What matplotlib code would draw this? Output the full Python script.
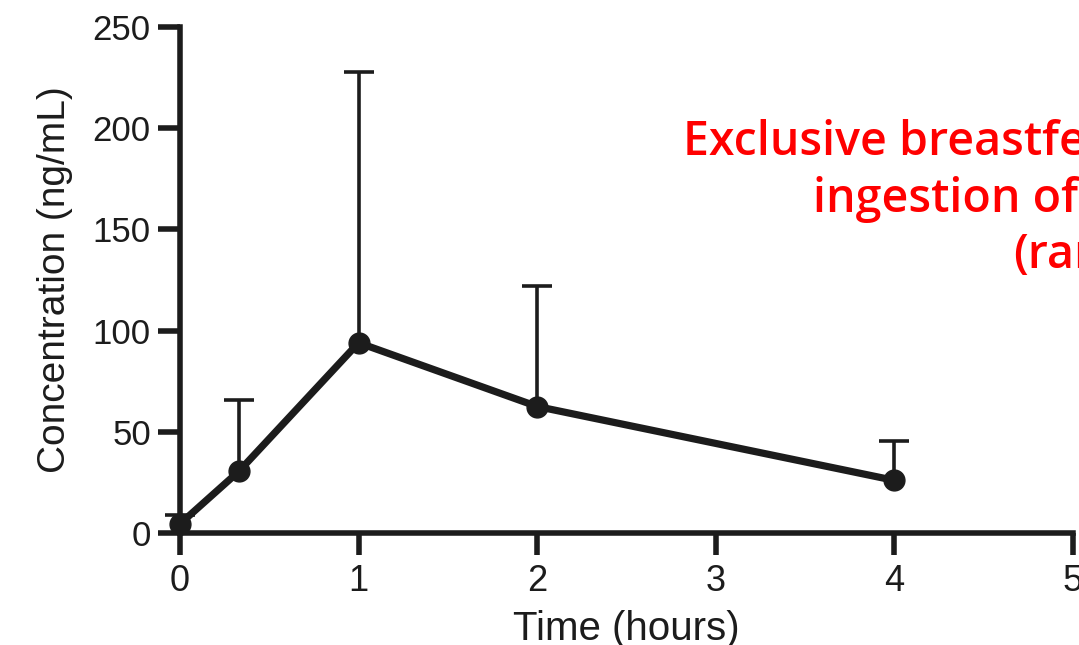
import matplotlib
matplotlib.use("Agg")
import matplotlib.pyplot as plt
import numpy as np

time_h = [0, 0.33, 1, 2, 4]
conc_mean = [4.5, 30.5, 94, 62.5, 26]
conc_upper = [9, 65.5, 228, 122, 45.5]
x_ticks = [0, 1, 2, 3, 4, 5]
y_ticks = [0, 50, 100, 150, 200, 250]
note_lines = ["Exclusive breastfeeding", "ingestion of", "(range"]

W, H = 1079, 645
fig = plt.figure(figsize=(W / 100, H / 100), dpi=100)
ax = fig.add_axes([180 / W, (H - 533) / H, (1073 - 180) / W, (533 - 27) / H])

ink = "#1c1c1c"
mean = np.array(conc_mean)
upper = np.array(conc_upper)
eb = ax.errorbar(time_h, mean, yerr=[np.zeros_like(mean), upper - mean],
                 fmt="none", ecolor=ink, elinewidth=2.6, capsize=10.5, capthick=2.6,
                 zorder=2, clip_on=False)
caps = eb[1]
if len(caps) == 2:
    caps[0].set_visible(False)
ax.plot(time_h, mean, color=ink, lw=5.2, marker="o", ms=15, zorder=3,
        clip_on=False, solid_joinstyle="round")

ax.set_xlim(0, 5)
ax.set_ylim(0, 250)
ax.set_xticks(x_ticks)
ax.set_yticks(y_ticks)
for s in ["top", "right"]:
    ax.spines[s].set_visible(False)
for s in ["left", "bottom"]:
    ax.spines[s].set_linewidth(4.0)
    ax.spines[s].set_color(ink)
ax.tick_params(axis="both", direction="out", length=16, width=4.0, color=ink)
ax.tick_params(axis="x", pad=6)
ax.tick_params(axis="y", pad=5)
for lab in ax.get_xticklabels():
    lab.set_fontfamily("Liberation Sans")
    lab.set_fontsize(26)
    lab.set_color(ink)
for lab in ax.get_yticklabels():
    lab.set_fontfamily("Liberation Sans")
    lab.set_fontsize(25)
    lab.set_color(ink)

ax.set_xlabel("Time (hours)", fontfamily="Liberation Sans", fontsize=29, color=ink, labelpad=8)
ax.set_ylabel("Concentration (ng/mL)", fontfamily="Liberation Sans", fontsize=28, color=ink, labelpad=14)

note_x = [683, 813, 1013]
note_y = [155, 212, 268]
for txt, px, py in zip(note_lines, note_x, note_y):
    fig.text(px / W, 1 - py / H, txt, color="#ff0000", fontsize=33.5,
             fontfamily="Open Sans", fontweight="semibold", ha="left", va="baseline")

fig.savefig("out.png", dpi=100)
